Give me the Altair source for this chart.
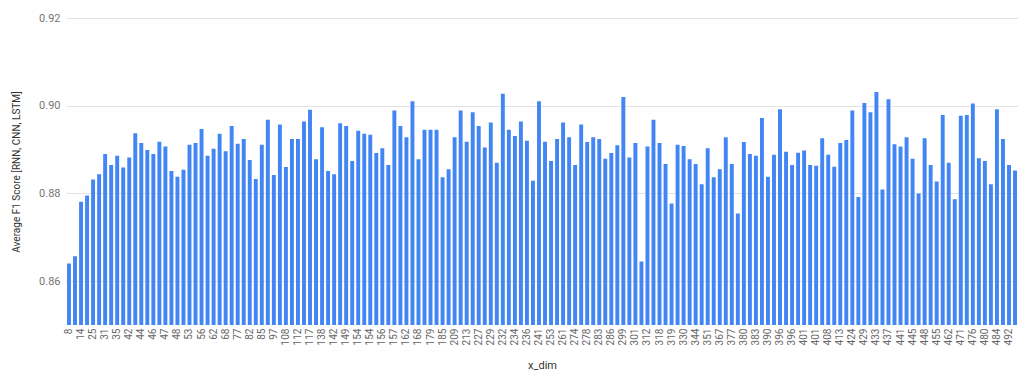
import altair as alt
import pandas as pd

# Shown x-axis tick labels (every second bar is labelled)
x_labels = ["8", "14", "25", "31", "35", "42", "44", "46", "47", "48", "53", "56", "62", "68",
            "77", "82", "85", "97", "108", "112", "117", "138", "142", "149", "154", "154",
            "156", "157", "162", "168", "179", "185", "209", "213", "227", "229", "232", "234",
            "236", "241", "253", "261", "274", "278", "283", "286", "299", "301", "312", "318",
            "319", "330", "344", "351", "367", "377", "380", "383", "390", "396", "396", "401",
            "401", "408", "413", "424", "429", "433", "437", "441", "445", "448", "455", "462",
            "471", "476", "480", "484", "492"]

# Average F1 score per bar, left to right
f1_scores = [
    0.8640, 0.8657, 0.8781, 0.8795, 0.8832, 0.8844, 0.8890, 0.8865, 0.8886, 0.8859,
    0.8882, 0.8937, 0.8915, 0.8899, 0.8890, 0.8918, 0.8907, 0.8851, 0.8838, 0.8854,
    0.8911, 0.8915, 0.8947, 0.8886, 0.8902, 0.8936, 0.8896, 0.8954, 0.8913, 0.8924,
    0.8876, 0.8833, 0.8911, 0.8968, 0.8842, 0.8957, 0.8860, 0.8924, 0.8924, 0.8964,
    0.8991, 0.8878, 0.8951, 0.8851, 0.8844, 0.8960, 0.8954, 0.8874, 0.8943, 0.8936,
    0.8934, 0.8892, 0.8903, 0.8865, 0.8989, 0.8954, 0.8928, 0.9010, 0.8878, 0.8945,
    0.8945, 0.8945, 0.8837, 0.8855, 0.8928, 0.8989, 0.8918, 0.8985, 0.8954, 0.8905,
    0.8962, 0.8870, 0.9027, 0.8945, 0.8931, 0.8964, 0.8920, 0.8829, 0.9010, 0.8918,
    0.8874, 0.8924, 0.8962, 0.8928, 0.8865, 0.8957, 0.8917, 0.8928, 0.8924, 0.8879,
    0.8892, 0.8910, 0.9020, 0.8882, 0.8915, 0.8645, 0.8907, 0.8968, 0.8915, 0.8867,
    0.8777, 0.8911, 0.8908, 0.8878, 0.8867, 0.8821, 0.8903, 0.8837, 0.8855, 0.8928,
    0.8867, 0.8754, 0.8917, 0.8890, 0.8886, 0.8972, 0.8838, 0.8888, 0.8992, 0.8895,
    0.8865, 0.8893, 0.8898, 0.8865, 0.8863, 0.8926, 0.8888, 0.8861, 0.8915, 0.8922,
    0.8989, 0.8792, 0.9006, 0.8985, 0.9031, 0.8809, 0.9015, 0.8912, 0.8907, 0.8928,
    0.8879, 0.8800, 0.8926, 0.8865, 0.8827, 0.8979, 0.8870, 0.8787, 0.8977, 0.8979,
    0.9005, 0.8880, 0.8874, 0.8821, 0.8992, 0.8924, 0.8865, 0.8852,
]

y_ticks = [0.86, 0.88, 0.90, 0.92]

df = pd.DataFrame({"idx": list(range(len(f1_scores))), "f1": f1_scores})

label_array = "[" + ",".join("'" + s + "'" for s in x_labels) + "]"
tick_idx = [2 * i for i in range(len(x_labels)) if 2 * i < len(f1_scores)]

FONT = "Roboto"

chart = (
    alt.Chart(df)
    .mark_bar(color="#4285f4", clip=True)
    .encode(
        x=alt.X(
            "idx:O",
            scale=alt.Scale(paddingInner=0.35, paddingOuter=0.17),
            axis=alt.Axis(
                title="x_dim",
                values=tick_idx,
                labelExpr=label_array + "[datum.value / 2]",
                labelAngle=-90,
                labelAlign="right",
                labelBaseline="middle",
                labelFontSize=10,
                labelColor="#666666",
                labelPadding=3,
                labelOverlap=False,
                ticks=False,
                domain=False,
                grid=False,
                titleFontSize=11,
                titleFontWeight="normal",
                titleColor="#333333",
                titleY=40,
                titleBaseline="middle",
            ),
        ),
        y=alt.Y(
            "f1:Q",
            scale=alt.Scale(domain=[0.85, 0.92], nice=False, zero=False),
            axis=alt.Axis(
                title="Average F1 Score [RNN, CNN, LSTM]",
                values=y_ticks,
                format=".2f",
                labelFontSize=11,
                labelColor="#757575",
                labelPadding=6,
                ticks=False,
                domain=False,
                gridColor="#e3e3e3",
                gridWidth=1,
                titleFontSize=10,
                titleFontWeight="normal",
                titleColor="#333333",
                titleX=-50,
                titleBaseline="middle",
            ),
        ),
    )
    .properties(
        width=952,
        height=307,
        autosize=alt.AutoSizeParams(type="none"),
        padding={"left": 66, "top": 18, "right": 0, "bottom": 49},
    )
    .configure(font=FONT)
    .configure_view(stroke=None)
)

chart.save("out.html", embed_options={"renderer": "svg", "actions": False})
